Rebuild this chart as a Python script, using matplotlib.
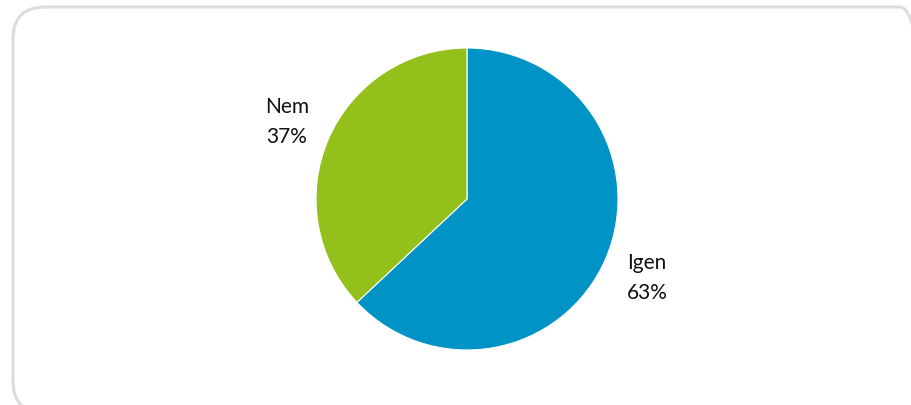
import matplotlib
matplotlib.use("Agg")
import matplotlib.pyplot as plt
from matplotlib.patches import FancyBboxPatch

categories = ["Igen", "Nem"]
values = [63, 37]
colors = ["#0093C6", "#93C01A"]

W, H = 912, 406
fig = plt.figure(figsize=(W / 100, H / 100), dpi=100)
fig.patch.set_facecolor("white")

# rounded frame drawn in a pixel-space background axes (y up)
bg = fig.add_axes([0, 0, 1, 1])
bg.set_xlim(0, W)
bg.set_ylim(0, H)
bg.axis("off")
left, top, right, bottom = 13, 8, 932, 414
frame = FancyBboxPatch((left, H - bottom), right - left, bottom - top,
                       boxstyle="round,pad=0,rounding_size=32",
                       facecolor="none", edgecolor="#DCDCDC", linewidth=2.2,
                       clip_on=False)
bg.add_patch(frame)

cx, cy, r = 467, 200, 151
ax = fig.add_axes([(cx - r) / W, (H - cy - r) / H, 2 * r / W, 2 * r / H])
labels = [f"{c}\n{v}%" for c, v in zip(categories, values)]
wedges, texts = ax.pie(values, labels=labels, colors=colors, startangle=90,
                       counterclock=False, labeldistance=1.3,
                       wedgeprops=dict(edgecolor="white", linewidth=0.8),
                       textprops=dict(fontsize=15, family=["Lato", "DejaVu Sans"],
                                      color="#111111", linespacing=1.6))
for t in texts:
    t.set_horizontalalignment("center")
    t.set_verticalalignment("center")
ax.set_xlim(-1, 1)
ax.set_ylim(-1, 1)
ax.set_aspect("equal")
ax.axis("off")

fig.savefig("out.png", dpi=100, facecolor="white")
